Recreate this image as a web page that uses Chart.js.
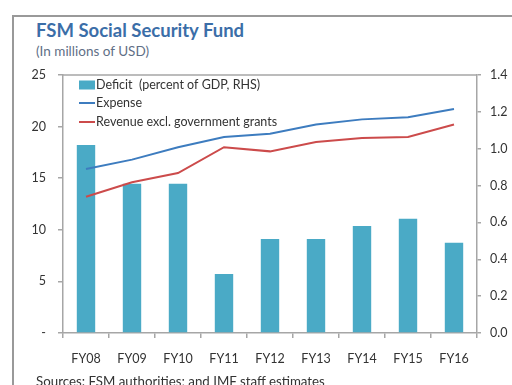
<!DOCTYPE html>
<html>
<head>
<meta charset="utf-8">
<script src="https://cdn.jsdelivr.net/npm/chart.js@4.4.1/dist/chart.umd.min.js"></script>
<style>
  html, body { margin: 0; padding: 0; background: #fff; }
  body { width: 512px; height: 385px; position: relative; overflow: hidden; font-family: Lato, "Open Sans", sans-serif; }
  #frame { position: absolute; left: 12px; top: 15px; width: 520px; height: 400px; border-left: 2px solid #999; border-top: 2px solid #999; }
  #title { position: absolute; left: 36px; top: 19px; font-size: 18.5px; font-weight: bold; color: #3b6ea8; white-space: nowrap; }
  #subtitle { position: absolute; left: 36px; top: 43px; font-size: 13.5px; color: #5f6f86; white-space: nowrap; }
  #source { position: absolute; left: 36px; top: 373px; font-size: 13.3px; color: #333; white-space: nowrap; }
  #wrap { position: absolute; left: 0; top: 0; width: 512px; height: 385px; }
</style>
</head>
<body>
<div id="frame"></div>
<div id="title">FSM Social Security Fund</div>
<div id="subtitle">(In millions of USD)</div>
<div id="wrap"><canvas id="chart" width="512" height="385"></canvas></div>
<div id="source">Sources: FSM authorities; and IMF staff estimates</div>
<script>
// Fiscal years
const categories = ['FY08', 'FY09', 'FY10', 'FY11', 'FY12', 'FY13', 'FY14', 'FY15', 'FY16'];
// Deficit, percent of GDP (right-hand scale)
const deficitPctGdp = [1.02, 0.81, 0.81, 0.32, 0.51, 0.51, 0.58, 0.62, 0.49];
// Expense, millions of USD
const expense = [15.9, 16.8, 18.0, 19.0, 19.3, 20.2, 20.7, 20.9, 21.7];
// Revenue excluding government grants, millions of USD
const revenue = [13.2, 14.6, 15.5, 18.0, 17.6, 18.5, 18.9, 19.0, 20.2];
// Axis tick settings
const leftTicks = { min: 0, max: 25, step: 5 };
const rightTicks = { min: 0, max: 1.4, step: 0.2 };

const AXIS_GREY = '#a6a6a6';
const TEXT = '#333333';
const FONT = { family: 'Lato, "Open Sans", sans-serif', size: 12.5 };

// Legend drawn inside the plot area, top-left
const insideLegend = {
  id: 'insideLegend',
  afterDatasetsDraw(chart) {
    const ctx = chart.ctx;
    const area = chart.chartArea;
    const x0 = area.left + 16;
    const rows = [area.top + 10, area.top + 28, area.top + 47];
    const items = [chart.data.datasets[0], chart.data.datasets[1], chart.data.datasets[2]];
    ctx.save();
    ctx.font = FONT.size + 'px ' + FONT.family;
    ctx.textBaseline = 'middle';
    ctx.fillStyle = TEXT;
    items.forEach((ds, i) => {
      const y = rows[i];
      if (ds.type === 'bar') {
        ctx.fillStyle = ds.backgroundColor;
        ctx.fillRect(x0, y - 4.5, 16, 9);
      } else {
        ctx.strokeStyle = ds.borderColor;
        ctx.lineWidth = 2;
        ctx.beginPath();
        ctx.moveTo(x0, y);
        ctx.lineTo(x0 + 16, y);
        ctx.stroke();
      }
      ctx.fillStyle = TEXT;
      ctx.fillText(ds.label, x0 + 17, y);
    });
    ctx.restore();
  }
};

// Top border of the plot box
const plotTopBorder = {
  id: 'plotTopBorder',
  afterDraw(chart) {
    const a = chart.chartArea;
    const ctx = chart.ctx;
    ctx.save();
    ctx.strokeStyle = AXIS_GREY;
    ctx.lineWidth = 1.5;
    ctx.beginPath();
    ctx.moveTo(a.left, a.top);
    ctx.lineTo(a.right, a.top);
    ctx.stroke();
    ctx.restore();
  }
};

new Chart(document.getElementById('chart'), {
  data: {
    labels: categories,
    datasets: [
      {
        type: 'bar',
        label: 'Deficit  (percent of GDP, RHS)',
        data: deficitPctGdp,
        yAxisID: 'y1',
        backgroundColor: '#4aaac6',
        barPercentage: 0.4,
        categoryPercentage: 1.0,
        order: 2
      },
      {
        type: 'line',
        label: 'Expense',
        data: expense,
        yAxisID: 'y',
        borderColor: '#3d7cbf',
        borderWidth: 2,
        pointRadius: 0,
        tension: 0,
        order: 1
      },
      {
        type: 'line',
        label: 'Revenue excl. government grants',
        data: revenue,
        yAxisID: 'y',
        borderColor: '#cc4b4b',
        borderWidth: 2,
        pointRadius: 0,
        tension: 0,
        order: 0
      }
    ]
  },
  options: {
    responsive: false,
    animation: false,
    layout: { padding: { left: 0, right: 0, top: 75, bottom: 0 } },
    plugins: {
      legend: { display: false },
      title: { display: false },
      tooltip: { enabled: false }
    },
    scales: {
      x: {
        offset: true,
        grid: { offset: true, drawOnChartArea: false, drawTicks: true, tickLength: 5, color: AXIS_GREY, lineWidth: 1.5 },
        border: { display: true, color: AXIS_GREY, width: 1.5 },
        ticks: { color: TEXT, font: FONT, padding: 13, maxRotation: 0 },
        afterFit(scale) { scale.height = 52; }
      },
      y: {
        position: 'left',
        min: leftTicks.min,
        max: leftTicks.max,
        grid: { drawOnChartArea: false, drawTicks: true, tickLength: 5, color: AXIS_GREY, lineWidth: 1.5 },
        border: { display: true, color: AXIS_GREY, width: 1.5 },
        ticks: {
          stepSize: leftTicks.step,
          color: TEXT,
          font: FONT,
          padding: 12,
          callback: (v) => (v === 0 ? '-' : v)
        },
        afterFit(scale) { scale.width = 63; }
      },
      y1: {
        position: 'right',
        min: rightTicks.min,
        max: rightTicks.max,
        grid: { drawOnChartArea: false, drawTicks: true, tickLength: 4, color: AXIS_GREY, lineWidth: 1.5 },
        border: { display: true, color: AXIS_GREY, width: 1.5 },
        ticks: {
          stepSize: rightTicks.step,
          color: TEXT,
          font: FONT,
          padding: 9,
          callback: (v) => Number(v).toFixed(1)
        },
        afterFit(scale) { scale.width = 35; }
      }
    }
  },
  plugins: [insideLegend, plotTopBorder]
});
</script>
</body>
</html>
